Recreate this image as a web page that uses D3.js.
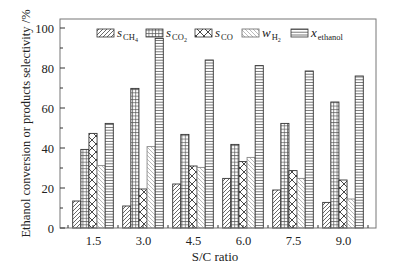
<!DOCTYPE html>
<html>
<head>
<meta charset="utf-8">
<script src="https://cdn.jsdelivr.net/npm/d3@7"></script>
<style>
  body { margin: 0; background: #fff; }
  text { font-family: "Liberation Serif", "Times New Roman", serif; fill: #222; }
</style>
</head>
<body>
<svg id="chart" width="397" height="264"></svg>
<script>
// S/C ratio categories
var ratios = ["1.5", "3.0", "4.5", "6.0", "7.5", "9.0"];
var seriesKeys = ["sCH4", "sCO2", "sCO", "wH2", "xEthanol"];

// values (%)
var sCH4     = [13.5, 11, 22, 24.8, 19, 12.8];
var sCO2     = [39.3, 69.8, 46.8, 41.8, 52.3, 63];
var sCO      = [47.3, 19.5, 31, 33.2, 28.7, 24];
var wH2      = [31.2, 40.7, 30.3, 35.3, 24.8, 14.5];
var xEthanol = [52.3, 94.8, 84, 81.2, 78.5, 76];

var yTicks = [0, 20, 40, 60, 80, 100];

var seriesVals = { sCH4: sCH4, sCO2: sCO2, sCO: sCO, wH2: wH2, xEthanol: xEthanol };

var pLeft = 60, pRight = 376, pTop = 19, pBottom = 228;

var svg = d3.select("#chart");

// hatch patterns
var defs = svg.append("defs");
function pat(id, size, draw) {
  var p = defs.append("pattern").attr("id", id)
    .attr("patternUnits", "userSpaceOnUse")
    .attr("width", size).attr("height", size);
  p.append("rect").attr("width", size).attr("height", size).attr("fill", "#fff");
  draw(p, size);
}
pat("p-sCH4", 4, function(p, s) {
  p.append("path").attr("d", "M0," + s + "L" + s + ",0M-1,1L1,-1M" + (s - 1) + "," + (s + 1) + "L" + (s + 1) + "," + (s - 1))
    .attr("stroke", "#444").attr("stroke-width", 0.8);
});
pat("p-sCO2", 3.3, function(p, s) {
  p.append("path").attr("d", "M0,0.5H" + s + "M0.5,0V" + s)
    .attr("stroke", "#555").attr("stroke-width", 0.7);
});
pat("p-sCO", 8, function(p, s) {
  p.append("path").attr("d", "M0,0L" + s + "," + s + "M0," + s + "L" + s + ",0")
    .attr("stroke", "#333").attr("stroke-width", 0.9);
});
pat("p-wH2", 4, function(p, s) {
  p.append("path").attr("d", "M0,0L" + s + "," + s + "M-1," + (s - 1) + "L1," + (s + 1) + "M" + (s - 1) + ",-1L" + (s + 1) + ",1")
    .attr("stroke", "#aaa").attr("stroke-width", 0.8);
});
pat("p-xEthanol", 2.8, function(p, s) {
  p.append("path").attr("d", "M0,1.4H" + s)
    .attr("stroke", "#555").attr("stroke-width", 0.8);
});

var x = d3.scalePoint().domain(ratios).range([pLeft, pRight]).padding(0.66);
var xb = d3.scaleBand().domain(seriesKeys).range([-20.3, 20.3]).padding(0);
var y = d3.scaleLinear().domain([0, 104.5]).range([pBottom, pTop]);

// bars
seriesKeys.forEach(function(k) {
  svg.append("g").selectAll("rect")
    .data(seriesVals[k])
    .enter().append("rect")
    .attr("x", function(d, i) { return x(ratios[i]) + xb(k); })
    .attr("width", xb.bandwidth())
    .attr("y", function(d) { return y(d); })
    .attr("height", function(d) { return pBottom - y(d); })
    .attr("fill", "url(#p-" + k + ")")
    .attr("stroke", k === "wH2" ? "#888" : "#333")
    .attr("stroke-width", 0.9);
});

// frame
svg.append("rect").attr("x", pLeft).attr("y", pTop)
  .attr("width", pRight - pLeft).attr("height", pBottom - pTop)
  .attr("fill", "none").attr("stroke", "#777").attr("stroke-width", 1);

// y axis (inward ticks)
var yAxis = svg.append("g").attr("transform", "translate(" + pLeft + ",0)")
  .call(d3.axisLeft(y).tickValues(yTicks).tickSize(0).tickPadding(6));
yAxis.select(".domain").remove();
yAxis.selectAll("text").attr("font-size", 12.5).attr("fill", "#222");
svg.append("g").selectAll("line")
  .data(d3.range(0, 101, 10))
  .enter().append("line")
  .attr("x1", pLeft).attr("x2", function(d) { return d % 20 === 0 ? pLeft + 5 : pLeft + 3; })
  .attr("y1", function(d) { return y(d); }).attr("y2", function(d) { return y(d); })
  .attr("stroke", "#333").attr("stroke-width", 1);

// x axis
var xAxis = svg.append("g").attr("transform", "translate(0," + pBottom + ")")
  .call(d3.axisBottom(x).tickSize(0).tickPadding(8));
xAxis.select(".domain").remove();
xAxis.selectAll("text").attr("font-size", 12.5).attr("fill", "#222");
var step = x.step();
var xTickPos = [];
ratios.forEach(function(r, i) {
  xTickPos.push(x(r));
  xTickPos.push(x(r) - step / 2);
});
xTickPos.push(x(ratios[ratios.length - 1]) + step / 2);
svg.append("g").selectAll("line")
  .data(xTickPos)
  .enter().append("line")
  .attr("x1", function(d) { return d; }).attr("x2", function(d) { return d; })
  .attr("y1", pBottom).attr("y2", pBottom - 3)
  .attr("stroke", "#333").attr("stroke-width", 1);

// axis titles
svg.append("text").attr("x", (pLeft + pRight) / 2 - 3).attr("y", 261)
  .attr("text-anchor", "middle").attr("font-size", 13).text("S/C ratio");
svg.append("text")
  .attr("transform", "translate(30," + ((pTop + pBottom) / 2) + ") rotate(-90)")
  .attr("text-anchor", "middle").attr("font-size", 12.5)
  .text("Ethanol conversion or products selectivity /%");

// legend
var legendX = [97, 146, 195, 242, 291];
var legendMain = ["s", "s", "s", "w", "x"];
var legendSub = ["CH", "CO", "CO", "H", "ethanol"];
var legendSub2 = ["4", "2", "", "2", ""];
var lg = svg.append("g");
seriesKeys.forEach(function(k, i) {
  lg.append("rect").attr("x", legendX[i]).attr("y", 29)
    .attr("width", 17).attr("height", 8)
    .attr("fill", "url(#p-" + k + ")")
    .attr("stroke", k === "wH2" ? "#666" : "#333").attr("stroke-width", 0.8);
  var t = lg.append("text").attr("x", legendX[i] + 20).attr("y", 37).attr("font-size", 13);
  t.append("tspan").attr("font-style", "italic").text(legendMain[i]);
  t.append("tspan").attr("font-size", 8.5).attr("dx", 1).attr("dy", 3).text(legendSub[i]);
  if (legendSub2[i]) t.append("tspan").attr("font-size", 6).attr("dy", 2).text(legendSub2[i]);
});
</script>
</body>
</html>
